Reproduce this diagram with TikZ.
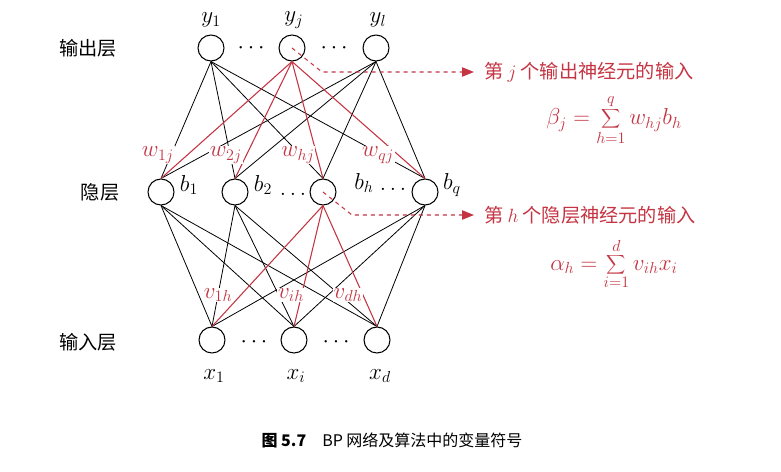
\documentclass[tikz,border=0pt]{standalone}
\usepackage{fontspec}
\newfontfamily\cjk{Noto Sans CJK SC}
\usetikzlibrary{arrows.meta, positioning}
\definecolor{bpred}{RGB}{196,52,66}

\begin{document}
\begin{tikzpicture}[
        x=0.75pt, y=-0.75pt,
        neuron/.style={circle, draw, thick, minimum size=19.5pt, inner sep=0pt},
        wlabel/.style={text=bpred, fill=white, inner sep=0.5pt, font=\LARGE},
        sym/.style={font=\LARGE},
        layername/.style={font=\Large\cjk},
        edge/.style={semithick},
        redge/.style={bpred, thick},
        pointer/.style={bpred, thick, dashed, -{Triangle[length=9pt, width=7pt]}}
    ]
        \useasboundingbox (0,0) rectangle (781,471);

        % Output layer
        \node[neuron] (y1) at (211,48) {};
        \node[neuron] (yj) at (292,48) {};
        \node[neuron] (yl) at (376,48) {};
        \node[sym] at (211,20) {$y_1$};
        \node[sym] at (294,20) {$y_j$};
        \node[sym] at (378,20) {$y_l$};
        \node[sym] at (251,48) {$\cdots$};
        \node[sym] at (334,48) {$\cdots$};

        % Hidden layer
        \node[neuron] (b1) at (161,192) {};
        \node[neuron] (b2) at (235,192) {};
        \node[neuron] (bh) at (323,192) {};
        \node[neuron] (bq) at (425,192) {};
        \node[sym] at (189,185) {$b_1$};
        \node[sym] at (263,185) {$b_2$};
        \node[sym] at (293,194) {$\ldots$};
        \node[sym] at (364,183) {$b_h$};
        \node[sym] at (393,189) {$\ldots$};
        \node[sym] at (452,185) {$b_q$};

        % Input layer
        \node[neuron] (x1) at (212,340) {};
        \node[neuron] (xi) at (294,340) {};
        \node[neuron] (xd) at (377,340) {};
        \node[sym] at (214,376) {$x_1$};
        \node[sym] at (296,376) {$x_i$};
        \node[sym] at (380,376) {$x_d$};
        \node[sym] at (254,342) {$\cdots$};
        \node[sym] at (336,342) {$\cdots$};

        % Layer names
        \node[layername] at (88,48) {输出层};
        \node[layername] at (100,192) {隐层};
        \node[layername] at (88,342) {输入层};

        % Connections
        \foreach \o in {y1,yl}
            \foreach \h in {b1,b2,bh,bq}
                \draw[edge] (\o.south) -- (\h.north);
        \foreach \h in {b1,b2,bq}
            \foreach \i in {x1,xi,xd}
                \draw[edge] (\h.south) -- (\i.north);
        \foreach \h in {b1,b2,bh,bq}
            \draw[redge] (yj.south) -- (\h.north);
        \foreach \i in {x1,xi,xd}
            \draw[redge] (bh.south) -- (\i.north);

        % Weight labels
        \node[wlabel] at (158,155) {$w_{1j}$};
        \node[wlabel] at (226,155) {$w_{2j}$};
        \node[wlabel] at (298,155) {$w_{hj}$};
        \node[wlabel] at (378,155) {$w_{qj}$};
        \node[wlabel] at (218,295) {$v_{1h}$};
        \node[wlabel] at (291,295) {$v_{ih}$};
        \node[wlabel] at (348,295) {$v_{dh}$};

        % Annotations
        \coordinate (jbend) at (322,72);
        \coordinate (jend) at (474,72);
        \draw[pointer] (yj.center) -- (jbend) -- (jend);
        \node[right=4pt of jend, text=bpred, font=\Large\cjk] (jtext) {第 $j$ 个输出神经元的输入};
        \node[text=bpred, font=\LARGE] at (614,120) {$\displaystyle\beta_j=\sum_{h=1}^{q} w_{hj}b_h$};

        \coordinate (hbend) at (352,215);
        \coordinate (hend) at (474,215);
        \draw[pointer] (bh.center) -- (hbend) -- (hend);
        \node[right=4pt of hend, text=bpred, font=\Large\cjk] (htext) {第 $h$ 个隐层神经元的输入};
        \node[text=bpred, font=\LARGE] at (614,264) {$\displaystyle\alpha_h=\sum_{i=1}^{d} v_{ih}x_i$};

        % Caption
        \node[font=\large\cjk] at (392,440) {\textbf{图 5.7}\quad BP 网络及算法中的变量符号};
\end{tikzpicture}
\end{document}
